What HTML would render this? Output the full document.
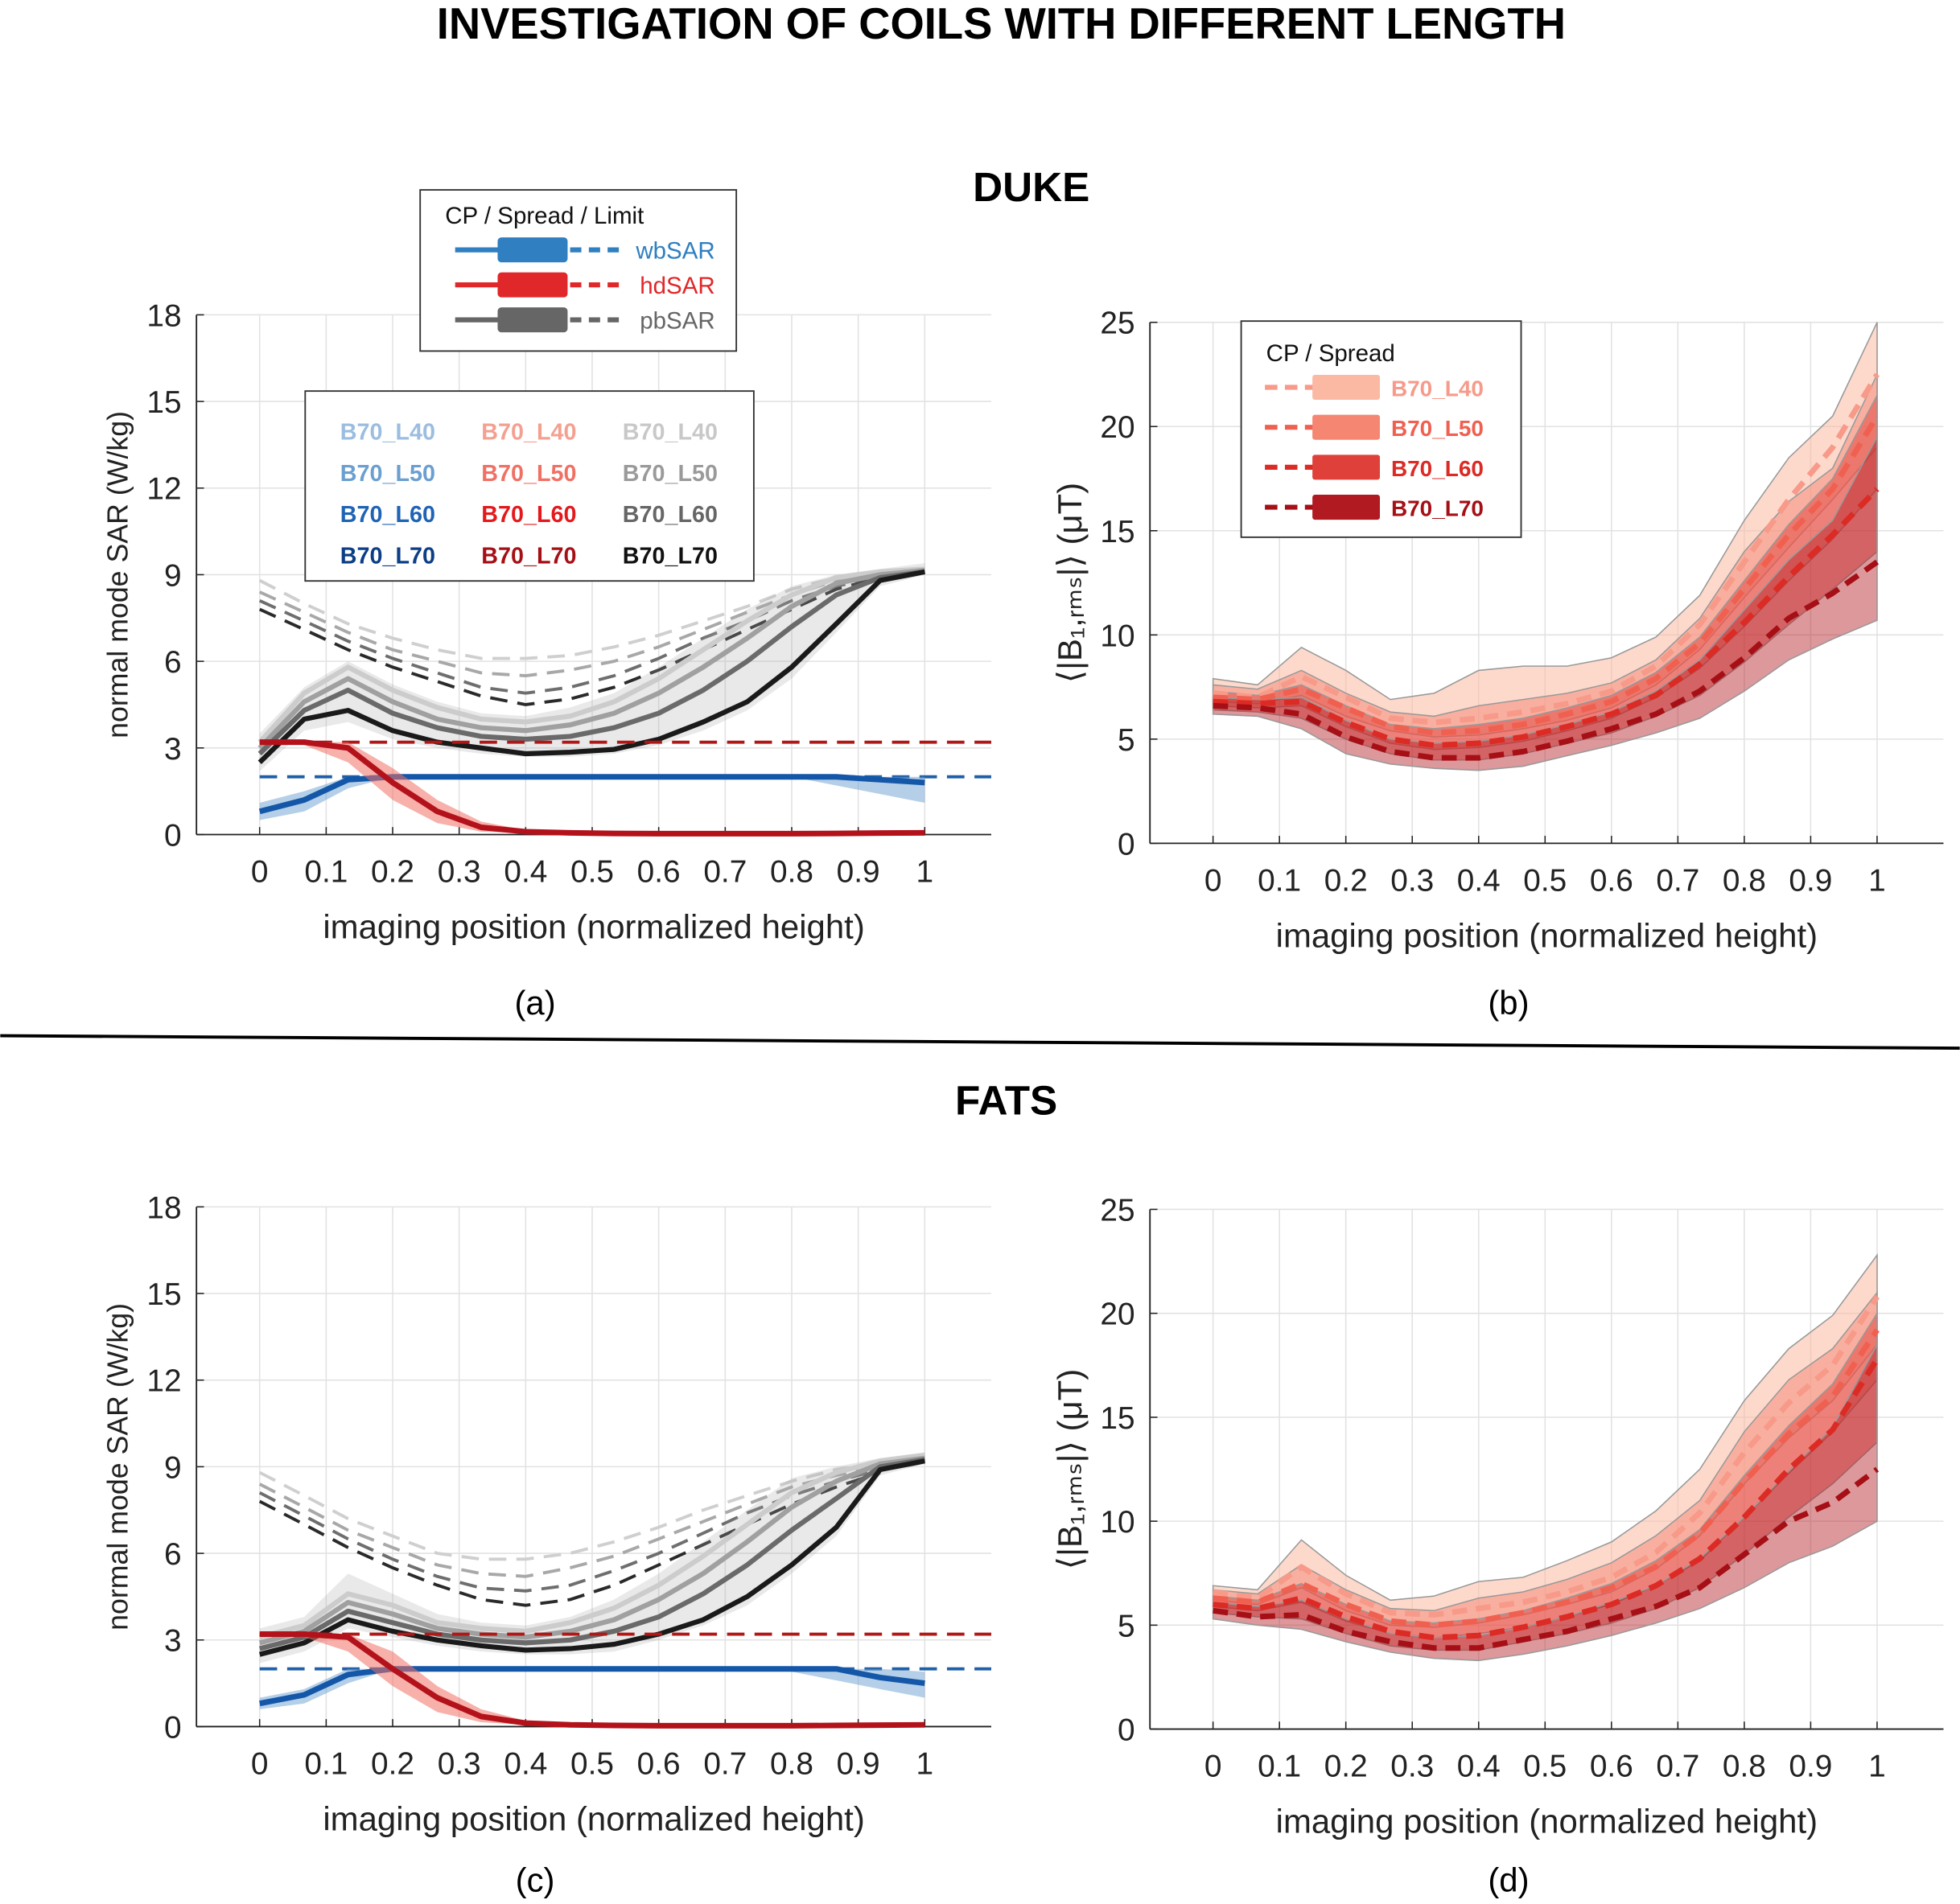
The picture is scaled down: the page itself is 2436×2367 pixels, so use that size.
<!DOCTYPE html>
<html><head><meta charset="utf-8"><style>
html,body{margin:0;padding:0;background:#fff}
svg{display:block}
text{font-family:"Liberation Sans",sans-serif}
</style></head><body>
<svg id="fig" width="2436" height="2367" viewBox="0 0 1568 1524" xmlns="http://www.w3.org/2000/svg">
<text x="801" y="31" text-anchor="middle" font-size="35" font-weight="bold">INVESTIGATION OF COILS WITH DIFFERENT LENGTH</text>
<text x="825" y="161" text-anchor="middle" font-size="33" font-weight="bold">DUKE</text>
<text x="805" y="892" text-anchor="middle" font-size="33" font-weight="bold">FATS</text>
<line x1="0" y1="829" x2="1568" y2="839" stroke="#000" stroke-width="2.5"/>
<text x="428" y="812" text-anchor="middle" font-size="27">(a)</text>
<text x="1207" y="812" text-anchor="middle" font-size="27">(b)</text>
<text x="428" y="1514" text-anchor="middle" font-size="27">(c)</text>
<text x="1207" y="1514" text-anchor="middle" font-size="27">(d)</text>
<g id="plots"></g>
<g id="legends"></g>
</svg>
<script>
const positions=[0,0.067,0.133,0.2,0.267,0.333,0.4,0.467,0.533,0.6,0.667,0.733,0.8,0.867,0.933,1];
const xTickLabels=['0','0.1','0.2','0.3','0.4','0.5','0.6','0.7','0.8','0.9','1'];
const sarTicks=[0,3,6,9,12,15,18];
const b1Ticks=[0,5,10,15,20,25];
// Panel a (DUKE SAR)
const aGray70=[2.5,4.0,4.3,3.6,3.2,3.0,2.8,2.85,2.95,3.3,3.9,4.6,5.8,7.3,8.8,9.1];
const aGray60=[2.8,4.3,5.0,4.2,3.7,3.4,3.3,3.4,3.7,4.2,5.0,6.0,7.2,8.3,8.9,9.1];
const aGray50=[3.0,4.6,5.4,4.6,4.0,3.7,3.6,3.8,4.2,4.9,5.8,6.8,7.9,8.7,9.0,9.15];
const aGray40=[3.2,4.9,5.8,5.0,4.4,4.0,3.9,4.1,4.6,5.4,6.4,7.4,8.3,8.9,9.1,9.2];
const aGrayLo=[2.2,3.6,3.9,3.3,3.0,2.8,2.7,2.7,2.8,3.1,3.6,4.3,5.4,7.0,8.6,9.0];
const aGrayHi=[3.5,5.1,6.0,5.2,4.6,4.2,4.1,4.4,4.9,5.8,6.8,7.8,8.6,9.0,9.2,9.4];
const aLim40=[8.8,8.0,7.3,6.8,6.4,6.1,6.1,6.2,6.5,6.9,7.4,7.9,8.5,8.9,9.1];
const aLim50=[8.4,7.7,7.0,6.4,6.0,5.6,5.5,5.7,6.0,6.5,7.1,7.7,8.3,8.8,9.0];
const aLim60=[8.1,7.4,6.7,6.1,5.6,5.1,4.9,5.1,5.5,6.1,6.8,7.4,8.1,8.6,8.9];
const aLim70=[7.8,7.1,6.4,5.8,5.3,4.8,4.5,4.7,5.1,5.7,6.4,7.1,7.8,8.5,8.9];
const aBlue=[0.8,1.2,1.9,2.0,2.0,2.0,2.0,2.0,2.0,2.0,2.0,2.0,2.0,2.0,1.9,1.8];
const aBlueLo=[0.5,0.8,1.6,2.0,2.0,2.0,2.0,2.0,2.0,2.0,2.0,2.0,2.0,1.7,1.4,1.1];
const aBlueHi=[1.1,1.5,2.0,2.0,2.0,2.0,2.0,2.0,2.0,2.0,2.0,2.0,2.0,2.0,2.0,2.0];
const aRed=[3.2,3.2,3.0,1.8,0.8,0.25,0.1,0.06,0.04,0.03,0.03,0.03,0.03,0.04,0.05,0.06];
const aRedLo=[3.2,3.1,2.5,1.2,0.4,0.1,0.05,0.03,0.02,0.02,0.02,0.02,0.02,0.02,0.03,0.03];
const aRedHi=[3.2,3.2,3.2,2.3,1.2,0.45,0.15,0.08,0.05,0.04,0.04,0.04,0.04,0.05,0.06,0.07];
const aWbLimit=2.0, aHdLimit=3.2;
// Panel c (FATS SAR)
const cGray70=[2.5,2.9,3.7,3.3,3.0,2.8,2.65,2.7,2.85,3.2,3.7,4.5,5.6,6.9,8.9,9.2];
const cGray60=[2.7,3.1,4.0,3.6,3.2,3.0,2.9,3.0,3.3,3.8,4.6,5.6,6.8,7.9,9.0,9.25];
const cGray50=[2.9,3.3,4.3,3.9,3.4,3.2,3.1,3.3,3.7,4.4,5.3,6.4,7.6,8.5,9.1,9.3];
const cGray40=[3.1,3.5,4.6,4.2,3.6,3.4,3.3,3.6,4.1,4.9,5.9,7.0,8.1,8.8,9.2,9.4];
const cGrayLo=[2.2,2.6,3.4,3.1,2.8,2.6,2.5,2.5,2.6,3.0,3.5,4.2,5.3,6.6,8.7,9.1];
const cGrayHi=[3.4,3.8,5.3,4.6,3.9,3.6,3.5,3.8,4.4,5.3,6.4,7.5,8.6,9.0,9.3,9.5];
const cLim40=[8.8,8.0,7.2,6.6,6.0,5.8,5.8,6.0,6.4,6.9,7.5,8.0,8.5,8.9,9.1];
const cLim50=[8.4,7.6,6.8,6.2,5.6,5.3,5.2,5.5,5.9,6.5,7.1,7.7,8.3,8.7,9.0];
const cLim60=[8.1,7.3,6.5,5.8,5.2,4.8,4.7,4.9,5.4,6.0,6.7,7.4,8.0,8.5,8.9];
const cLim70=[7.8,7.0,6.2,5.5,4.9,4.4,4.2,4.4,4.9,5.6,6.3,7.0,7.7,8.3,8.8];
const cBlue=[0.8,1.1,1.8,2.0,2.0,2.0,2.0,2.0,2.0,2.0,2.0,2.0,2.0,2.0,1.7,1.5];
const cBlueLo=[0.6,0.8,1.5,2.0,2.0,2.0,2.0,2.0,2.0,2.0,2.0,2.0,1.9,1.6,1.3,1.0];
const cBlueHi=[1.0,1.3,2.0,2.0,2.0,2.0,2.0,2.0,2.0,2.0,2.0,2.0,2.0,2.0,2.0,1.9];
const cRed=[3.2,3.2,3.1,2.0,1.0,0.35,0.12,0.06,0.04,0.03,0.03,0.03,0.03,0.04,0.05,0.06];
const cRedLo=[3.2,3.1,2.6,1.4,0.5,0.15,0.06,0.03,0.02,0.02,0.02,0.02,0.02,0.02,0.03,0.03];
const cRedHi=[3.2,3.2,3.2,2.6,1.4,0.6,0.2,0.09,0.05,0.04,0.04,0.04,0.04,0.05,0.06,0.07];
const cWbLimit=2.0, cHdLimit=3.2;
// Panel b (DUKE B1)
const b40=[7.2,7.0,8.0,7.0,6.0,5.8,6.0,6.3,6.7,7.3,8.5,10.5,13.5,16.5,19.0,22.5];
const b50=[7.0,6.9,7.4,6.5,5.6,5.3,5.4,5.7,6.2,6.8,7.9,9.6,12.2,14.8,17.0,20.5];
const b60=[6.8,6.7,6.8,5.8,5.0,4.7,4.8,5.1,5.6,6.2,7.1,8.6,10.6,12.8,14.8,17.0];
const b70=[6.6,6.5,6.2,5.1,4.4,4.1,4.1,4.4,4.9,5.5,6.2,7.3,8.9,10.8,12.0,13.5];
const b40Lo=[6.8,6.7,7.1,6.1,5.4,5.1,5.2,5.5,5.9,6.5,7.6,9.3,11.8,14.2,16.5,19.0];
const b40Hi=[7.9,7.6,9.4,8.3,6.9,7.2,8.3,8.5,8.5,8.9,9.9,11.9,15.5,18.5,20.5,25.0];
const b50Lo=[6.6,6.5,6.6,5.6,4.8,4.5,4.6,4.9,5.4,6.0,7.0,8.4,10.4,12.6,14.6,17.0];
const b50Hi=[7.6,7.4,8.3,7.2,6.3,6.1,6.6,6.9,7.2,7.7,8.8,10.8,14.0,16.4,18.0,22.5];
const b60Lo=[6.4,6.3,6.0,5.0,4.3,4.0,4.0,4.3,4.8,5.3,6.1,7.1,8.7,10.5,12.2,14.0];
const b60Hi=[7.3,7.1,7.6,6.6,5.7,5.5,5.7,6.0,6.5,7.1,8.2,9.9,12.6,15.3,17.5,21.5];
const b70Lo=[6.2,6.1,5.5,4.3,3.8,3.6,3.5,3.7,4.2,4.7,5.3,6.0,7.3,8.8,9.8,10.7];
const b70Hi=[7.0,6.9,7.0,5.9,5.0,4.8,4.9,5.2,5.7,6.3,7.3,8.8,11.2,13.6,15.5,19.5];
// Panel d (FATS B1)
const d40=[6.6,6.3,7.8,6.5,5.6,5.5,5.8,6.1,6.6,7.3,8.5,10.4,13.3,15.7,17.5,20.8];
const d50=[6.3,6.1,7.0,6.0,5.2,5.0,5.2,5.6,6.1,6.8,7.8,9.4,11.9,14.2,16.0,19.2];
const d60=[6.0,5.8,6.3,5.4,4.7,4.4,4.5,4.9,5.4,6.0,6.9,8.2,10.2,12.5,14.4,17.8];
const d70=[5.7,5.4,5.5,4.7,4.2,3.9,3.9,4.3,4.7,5.3,5.9,6.8,8.4,10.0,10.9,12.5];
const d40Lo=[6.2,6.0,6.8,5.7,5.0,4.9,5.1,5.5,6.0,6.6,7.7,9.3,11.8,14.0,15.8,18.5];
const d40Hi=[6.9,6.7,9.1,7.4,6.2,6.4,7.1,7.3,8.1,9.0,10.5,12.5,15.8,18.3,19.9,22.8];
const d50Lo=[5.9,5.7,6.1,5.2,4.6,4.4,4.6,4.9,5.4,6.0,6.9,8.1,10.2,12.3,14.3,16.8];
const d50Hi=[6.7,6.5,7.9,6.7,5.8,5.7,6.3,6.6,7.2,8.0,9.3,11.0,14.3,16.8,18.3,21.0];
const d60Lo=[5.6,5.4,5.3,4.6,4.0,3.8,3.8,4.2,4.6,5.1,5.8,6.8,8.4,10.2,11.8,13.8];
const d60Hi=[6.4,6.2,7.0,6.0,5.2,5.1,5.3,5.7,6.3,7.0,8.1,9.6,12.2,14.6,16.6,20.0];
const d70Lo=[5.3,5.0,4.8,4.2,3.7,3.4,3.3,3.6,4.0,4.5,5.1,5.8,6.8,8.0,8.8,10.0];
const d70Hi=[6.1,5.9,6.2,5.3,4.6,4.4,4.5,4.9,5.4,6.1,6.9,8.2,10.2,12.4,14.5,18.5];

const NS='http://www.w3.org/2000/svg';
const plots=document.getElementById('plots');
function el(tag,attrs,parent){const e=document.createElementNS(NS,tag);for(const k in attrs)e.setAttribute(k,attrs[k]);(parent||plots).appendChild(e);return e;}
function makeAxes(L,R,T,B,ymax){
  const xs=v=>L+(v+0.095)/(1.195)*(R-L);
  const ys=v=>B-v/ymax*(B-T);
  return {xs,ys,L,R,T,B};
}
function drawFrame(ax,yticks,name,ylabel,serif){
  const g=el('g',{});
  
  
  xTickLabels.forEach((t,i)=>{const x=ax.xs(i/10);
    const gl=el('line',{x1:x,x2:x,y1:ax.T,y2:ax.B,stroke:'#e2e2e2','stroke-width':1},g);
    
    el('line',{x1:x,x2:x,y1:ax.B,y2:ax.B-6,stroke:'#222','stroke-width':1},g);
    const tx=el('text',{x:x,y:ax.B+38,'text-anchor':'middle','font-size':25,fill:'#222'},g);
    tx.textContent=t;
    });
  yticks.forEach(v=>{const y=ax.ys(v);
    const gl=el('line',{x1:ax.L,x2:ax.R,y1:y,y2:y,stroke:'#e2e2e2','stroke-width':1},g);
    
    el('line',{x1:ax.L,x2:ax.L+6,y1:y,y2:y,stroke:'#222'},g);
    const tx=el('text',{x:ax.L-12,y:y+9,'text-anchor':'end','font-size':25,fill:'#222'},g);
    tx.textContent=String(v);
    });
  el('line',{x1:ax.L,x2:ax.R,y1:ax.B,y2:ax.B,stroke:'#222','stroke-width':1.2},g);
  el('line',{x1:ax.L,x2:ax.L,y1:ax.T,y2:ax.B,stroke:'#222','stroke-width':1.2},g);
  const xl=el('text',{x:(ax.L+ax.R)/2,y:ax.B+83,'text-anchor':'middle','font-size':27,fill:'#222'},g);
  xl.textContent='imaging position (normalized height)';
  
  const cy=(ax.T+ax.B)/2, cx=ax.L-55;
  const yl=el('text',{x:cx,y:cy,'text-anchor':'middle','font-size':serif?27:23,fill:'#222',transform:`rotate(-90 ${cx} ${cy})`},g);
  if(serif){yl.setAttribute('font-family','"Liberation Serif",serif');}
  yl.textContent=ylabel;
  
}
function pts(ax,vals){return vals.map((v,i)=>ax.xs(positions[i]).toFixed(1)+','+ax.ys(v).toFixed(1)).join(' ');}
function line(ax,vals,color,w,dash,name){
  const p=el('polyline',{points:pts(ax,vals),fill:'none',stroke:color,'stroke-width':w,'stroke-linejoin':'round'});
  if(dash)p.setAttribute('stroke-dasharray',dash);
  
  
}
function band(ax,lo,hi,fill,op,edge,name){
  const up=hi.map((v,i)=>ax.xs(positions[i]).toFixed(1)+','+ax.ys(v).toFixed(1));
  const dn=lo.map((v,i)=>ax.xs(positions[i]).toFixed(1)+','+ax.ys(v).toFixed(1)).reverse();
  const p=el('polygon',{points:up.concat(dn).join(' '),fill:fill,'fill-opacity':op,stroke:edge||'none','stroke-width':1});
  
  
}
function hline(ax,v,color,name){
  const p=el('line',{x1:ax.xs(0),x2:ax.R,y1:ax.ys(v),y2:ax.ys(v),stroke:color,'stroke-width':2.5,'stroke-dasharray':'14,8'});
  
}
const grays=['#cccccc','#a0a0a0','#6a6a6a','#1a1a1a'];
const limGrays=['#cfcfcf','#a8a8a8','#6e6e6e','#2a2a2a'];
function sarPanel(ax,pre,G,Lim,gLo,gHi,blue,bLo,bHi,red,rLo,rHi,wb,hd){
  drawFrame(ax,sarTicks,pre,'normal mode SAR (W/kg)',false);
  Lim.forEach((s,i)=>line(ax,s,limGrays[i],2.5,'14,8',pre+'-pbsar-limit-'+(i+4)+'0'));
  band(ax,gLo,gHi,'#a8a8a8',0.25,null,pre+'-pbsar-spread');
  G.forEach((s,i)=>line(ax,s,grays[i],4,null,pre+'-pbsar-cp-'+(i+4)+'0'));
  hline(ax,hd,'#b01818',pre+'-hdsar-limit');
  hline(ax,wb,'#1f5fa8',pre+'-wbsar-limit');
  band(ax,bLo,bHi,'#6a9fd0',0.5,null,pre+'-wbsar-spread');
  line(ax,blue,'#1457a8',4.5,null,pre+'-wbsar-cp');
  band(ax,rLo,rHi,'#f07064',0.55,null,pre+'-hdsar-spread');
  line(ax,red,'#b3121b',4.5,null,pre+'-hdsar-cp');
}
const bandFills=['#fbb9a3','#f58672','#e0403a','#b21a22'];
const bandOps=[0.55,0.5,0.5,0.45];
const lineCols=['#f79a8a','#f06050','#dc2a24','#a50f15'];
function b1Panel(ax,pre,L,Lo,Hi){
  drawFrame(ax,b1Ticks,pre,'⟨|B₁,ᵣₘₛ|⟩ (μT)',true);
  Lo.forEach((lo,i)=>band(ax,lo,Hi[i],bandFills[i],bandOps[i],'#999',pre+'-spread-l'+(i+4)+'0'));
  L.forEach((s,i)=>line(ax,s,lineCols[i],4.5,'12,7',pre+'-cp-l'+(i+4)+'0'));
}
sarPanel(makeAxes(157,793,252,668,18),'panel-a',[aGray40,aGray50,aGray60,aGray70],[aLim40,aLim50,aLim60,aLim70],aGrayLo,aGrayHi,aBlue,aBlueLo,aBlueHi,aRed,aRedLo,aRedHi,aWbLimit,aHdLimit);
sarPanel(makeAxes(157,793,966,1382,18),'panel-c',[cGray40,cGray50,cGray60,cGray70],[cLim40,cLim50,cLim60,cLim70],cGrayLo,cGrayHi,cBlue,cBlueLo,cBlueHi,cRed,cRedLo,cRedHi,cWbLimit,cHdLimit);
b1Panel(makeAxes(920,1555,258,675,25),'panel-b',[b40,b50,b60,b70],[b40Lo,b50Lo,b60Lo,b70Lo],[b40Hi,b50Hi,b60Hi,b70Hi]);
b1Panel(makeAxes(920,1555,968,1384,25),'panel-d',[d40,d50,d60,d70],[d40Lo,d50Lo,d60Lo,d70Lo],[d40Hi,d50Hi,d60Hi,d70Hi]);

// legends
const lg=document.getElementById('legends');
function L(tag,attrs,name){const e=el(tag,attrs,lg);if(name){}return e;}
function T(x,y,s,attrs,name){const e=L('text',Object.assign({x:x,y:y,'font-size':19},attrs),name);e.textContent=s;return e;}
L('rect',{x:336,y:152,width:253,height:129,fill:'#fff',stroke:'#333','stroke-width':1.2},'legend-box-sar');
T(356,179,'CP / Spread / Limit',{fill:'#111'},'legend-title-sar');
[['wbSAR','#2f7fc1',200],['hdSAR','#e0282a',228],['pbSAR','#666',256]].forEach(r=>{
  L('line',{x1:364,x2:400,y1:r[2],y2:r[2],stroke:r[1],'stroke-width':4},'legend-cp-'+r[0]);
  L('rect',{x:398,y:r[2]-10,width:56,height:20,rx:3,fill:r[1]},'legend-spread-'+r[0]);
  L('line',{x1:456,x2:496,y1:r[2],y2:r[2],stroke:r[1],'stroke-width':4,'stroke-dasharray':'9,6'},'legend-limit-'+r[0]);
  T(572,r[2]+7,r[0],{fill:r[1],'text-anchor':'end'},'legend-label-'+r[0]);
});
L('rect',{x:244,y:313,width:359,height:152,fill:'#fff',stroke:'#333','stroke-width':1.2},'legend-box-coils');
const colsL=[['#9bbde0','#6a9fd0','#1f64b4','#0c3e86'],['#f4a090','#f07064','#e4191c','#a50f15'],['#c8c8c8','#9a9a9a','#666666','#111111']];
const names=['B70_L40','B70_L50','B70_L60','B70_L70'];
colsL.forEach((c,ci)=>names.forEach((n,ri)=>T(272+ci*113,352+ri*33,n,{fill:c[ri],'font-weight':'bold','font-size':18.5},'legend-coil-'+ci+'-'+ri)));
L('rect',{x:993,y:257,width:224,height:173,fill:'#fff',stroke:'#333','stroke-width':1.2},'legend-box-b1');
T(1013,289,'CP / Spread',{fill:'#111'},'legend-title-b1');
names.forEach((n,i)=>{const y=310+i*32;
  L('line',{x1:1012,x2:1052,y1:y,y2:y,stroke:lineCols[i],'stroke-width':4,'stroke-dasharray':'10,6'},'legend-cp-'+n);
  L('rect',{x:1050,y:y-10,width:54,height:20,rx:2,fill:bandFills[i]},'legend-spread-'+n);
  T(1113,y+7,n,{fill:lineCols[i],'font-weight':'bold','font-size':18},'legend-label-'+n);
});
</script>
</body></html>
